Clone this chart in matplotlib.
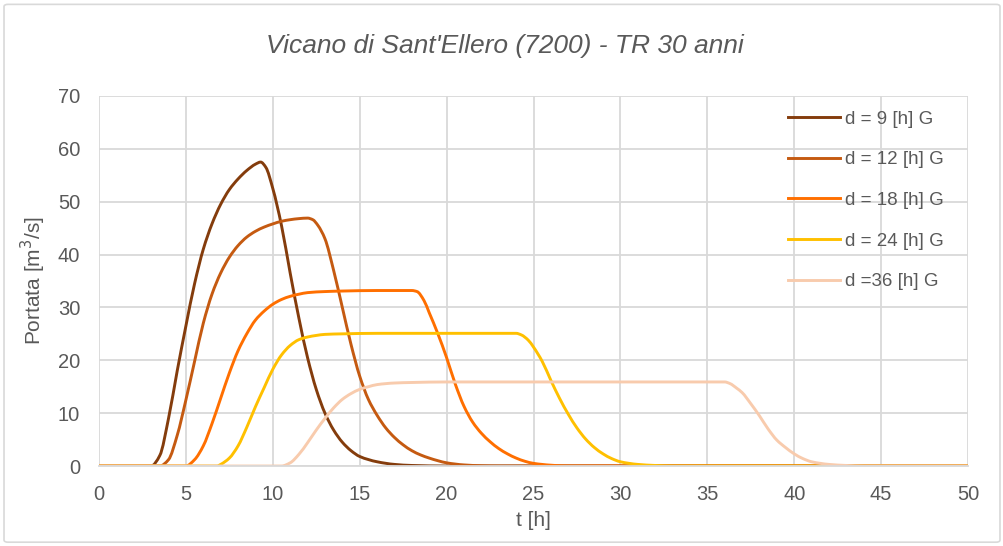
import matplotlib
matplotlib.use("Agg")
import numpy as np
import matplotlib.pyplot as plt
from matplotlib.patches import FancyBboxPatch, PathPatch
from matplotlib.path import Path
from matplotlib.lines import Line2D
from matplotlib import font_manager

# ---------------- data ----------------
t9 = [0, 3.0, 3.5, 4.0, 4.5, 5.0, 5.5, 6.0, 6.5, 7.0, 7.5, 8.0, 8.5, 9.0, 9.3, 9.6, 10.0,
      10.5, 11.0, 11.5, 12.0, 12.5, 13.0, 13.5, 14.0, 14.5, 15.0, 16.0, 17.0, 18.0, 20.0, 50.0]
q9 = [0, 0, 2.0, 9.0, 18.0, 26.5, 34.5, 41.0, 45.8, 49.5, 52.3, 54.3, 55.9, 57.1, 57.5, 56.5, 52.5,
      45.5, 36.5, 28.0, 20.5, 14.5, 10.0, 6.8, 4.5, 2.9, 1.8, 0.8, 0.3, 0.1, 0, 0]

t12 = [0, 3.5, 4.0, 4.5, 5.0, 5.5, 6.0, 6.5, 7.0, 7.5, 8.0, 8.5, 9.0, 9.5, 10.0, 10.5, 11.0,
       11.5, 12.0, 12.3, 12.6, 13.0, 13.5, 14.0, 14.5, 15.0, 15.5, 16.0, 16.5, 17.0, 17.5,
       18.0, 18.5, 19.0, 19.5, 20.0, 21.0, 22.0, 23.0, 50.0]
q12 = [0, 0, 1.2, 5.8, 12.5, 19.8, 27.0, 32.5, 36.5, 39.5, 41.7, 43.3, 44.4, 45.2, 45.8, 46.3, 46.6,
       46.8, 46.9, 46.6, 45.5, 43.0, 37.0, 30.0, 23.0, 17.0, 12.6, 9.6, 7.2, 5.4, 4.0,
       2.9, 2.1, 1.5, 1.0, 0.6, 0.2, 0.05, 0, 0]

t18 = [0, 5.0, 5.5, 6.0, 6.5, 7.0, 7.5, 8.0, 8.5, 9.0, 9.5, 10.0, 10.5, 11.0, 11.5, 12.0, 13.0,
       14.0, 16.0, 18.0, 18.3, 18.7, 19.0, 19.5, 20.0, 20.5, 21.0, 21.5, 22.0, 22.5, 23.0,
       23.5, 24.0, 24.5, 25.0, 26.0, 27.0, 50.0]
q18 = [0, 0, 1.2, 3.8, 8.0, 12.8, 17.6, 21.8, 25.0, 27.6, 29.3, 30.6, 31.5, 32.1, 32.5, 32.8, 33.0,
       33.1, 33.2, 33.2, 33.0, 31.3, 29.0, 25.0, 20.5, 15.5, 11.3, 8.3, 6.2, 4.6, 3.3,
       2.3, 1.5, 0.9, 0.5, 0.15, 0, 0]

t24 = [0, 6.8, 7.0, 7.5, 8.0, 8.5, 9.0, 9.5, 10.0, 10.5, 11.0, 11.5, 12.0, 12.5, 13.0, 14.0,
       16.0, 20.0, 24.0, 24.3, 24.7, 25.0, 25.5, 26.0, 26.5, 27.0, 27.5, 28.0, 28.5, 29.0,
       29.5, 30.0, 31.0, 32.0, 33.0, 50.0]
q24 = [0, 0, 0.3, 1.5, 3.8, 7.3, 11.2, 14.8, 18.3, 21.0, 22.8, 23.9, 24.4, 24.7, 24.9, 25.0,
       25.1, 25.1, 25.1, 24.8, 23.8, 22.5, 19.8, 16.2, 12.8, 9.8, 7.2, 5.1, 3.5, 2.3,
       1.4, 0.8, 0.3, 0.1, 0, 0]

t36 = [0, 10.5, 11.0, 11.5, 12.0, 12.5, 13.0, 13.5, 14.0, 14.5, 15.0, 15.5, 16.0, 17.0, 18.0,
       20.0, 36.0, 36.3, 36.7, 37.0, 37.5, 38.0, 38.5, 39.0, 39.5, 40.0, 40.5, 41.0, 42.0,
       43.0, 44.0, 50.0]
q36 = [0, 0, 0.6, 2.2, 4.4, 6.8, 9.0, 11.0, 12.6, 13.7, 14.5, 15.0, 15.4, 15.7, 15.8,
       15.9, 15.9, 15.6, 14.7, 13.9, 11.8, 9.5, 7.0, 4.9, 3.5, 2.3, 1.4, 0.8, 0.3,
       0.1, 0, 0]

labels = ["d = 9 [h] G", "d = 12 [h] G", "d = 18 [h] G", "d = 24 [h] G", "d =36 [h] G"]
title = "Vicano di Sant'Ellero (7200) - TR 30 anni"
xticks = [0, 5, 10, 15, 20, 25, 30, 35, 40, 45, 50]
yticks = [0, 10, 20, 30, 40, 50, 60, 70]


def smooth_path(x, y):
    """Smoothed line through the points (like Excel's smoothed line), as Bezier path."""
    x = np.asarray(x, float)
    y = np.asarray(y, float)
    h = np.diff(x)
    d = np.diff(y) / h
    m = np.zeros_like(y)
    for k in range(1, len(x) - 1):
        if d[k - 1] * d[k] > 0:
            w1 = 2 * h[k] + h[k - 1]
            w2 = h[k] + 2 * h[k - 1]
            m[k] = (w1 + w2) / (w1 / d[k - 1] + w2 / d[k])
    verts = [(x[0], y[0])]
    codes = [Path.MOVETO]
    for k in range(len(x) - 1):
        verts += [(x[k] + h[k] / 3, y[k] + m[k] * h[k] / 3),
                  (x[k + 1] - h[k] / 3, y[k + 1] - m[k + 1] * h[k] / 3),
                  (x[k + 1], y[k + 1])]
        codes += [Path.CURVE4] * 3
    return Path(verts, codes)


# ---------------- style ----------------
available = {f.name for f in font_manager.fontManager.ttflist}
fam = ["Liberation Sans Narrow", "Liberation Sans", "DejaVu Sans"]
fam = [f for f in fam if f in available] or ["DejaVu Sans"]
plt.rcParams["font.family"] = fam

gray = "#595959"
colors = ["#843C0C", "#C55A11", "#FF6F00", "#FFC000", "#F8CBAD"]

fig = plt.figure(figsize=(10.04, 5.46), dpi=100)
fig.patch.set_facecolor("white")
border = FancyBboxPatch((0.004, 0.007), 0.992, 0.985, boxstyle="round,pad=0,rounding_size=0.004",
                        transform=fig.transFigure, facecolor="none", edgecolor="#D9D9D9",
                        linewidth=1.2, zorder=-1)
fig.patches.append(border)

ax = fig.add_axes([99 / 1004, 80 / 546, (968 - 99) / 1004, (466 - 96) / 546])
ax.set_facecolor("none")

series = [(t9, q9), (t12, q12), (t18, q18), (t24, q24), (t36, q36)]
handles = []
for (t, q), c, lab in zip(series, colors, labels):
    patch = PathPatch(smooth_path(t, q), facecolor="none", edgecolor=c, lw=2.1,
                      capstyle="round", joinstyle="round", zorder=2)
    ax.add_patch(patch)
    handles.append(Line2D([], [], color=c, lw=2.1, label=lab))

ax.set_xlim(0, 50)
ax.set_ylim(0, 70)
ax.set_xticks(xticks)
ax.set_yticks(yticks)
ax.grid(True, color="#D9D9D9", lw=1.3)
ax.set_axisbelow(True)
for s in ["top", "right", "left"]:
    ax.spines[s].set_visible(False)
ax.spines["bottom"].set_color("#D9D9D9")
ax.spines["bottom"].set_linewidth(1.3)
ax.tick_params(axis="both", length=0, labelsize=14.5, labelcolor=gray)
ax.tick_params(axis="x", pad=13.5)
ax.tick_params(axis="y", pad=13.5)

ax.set_xlabel("t [h]", fontsize=15, color=gray, labelpad=5.5)
ax.set_ylabel("Portata [m$^3$/s]", fontsize=15, color=gray, labelpad=7)
fig.text(0.503, 0.915, title, ha="center", va="center", fontsize=19, style="italic", color=gray)

leg = ax.legend(handles=handles, loc="upper left", bbox_to_anchor=(0.7929, 0.960), frameon=False,
                fontsize=13.5, labelcolor=gray, handlelength=2.77, handletextpad=0.27,
                labelspacing=1.25, borderaxespad=0, borderpad=0)

fig.savefig("out.png", dpi=100, facecolor="white")
